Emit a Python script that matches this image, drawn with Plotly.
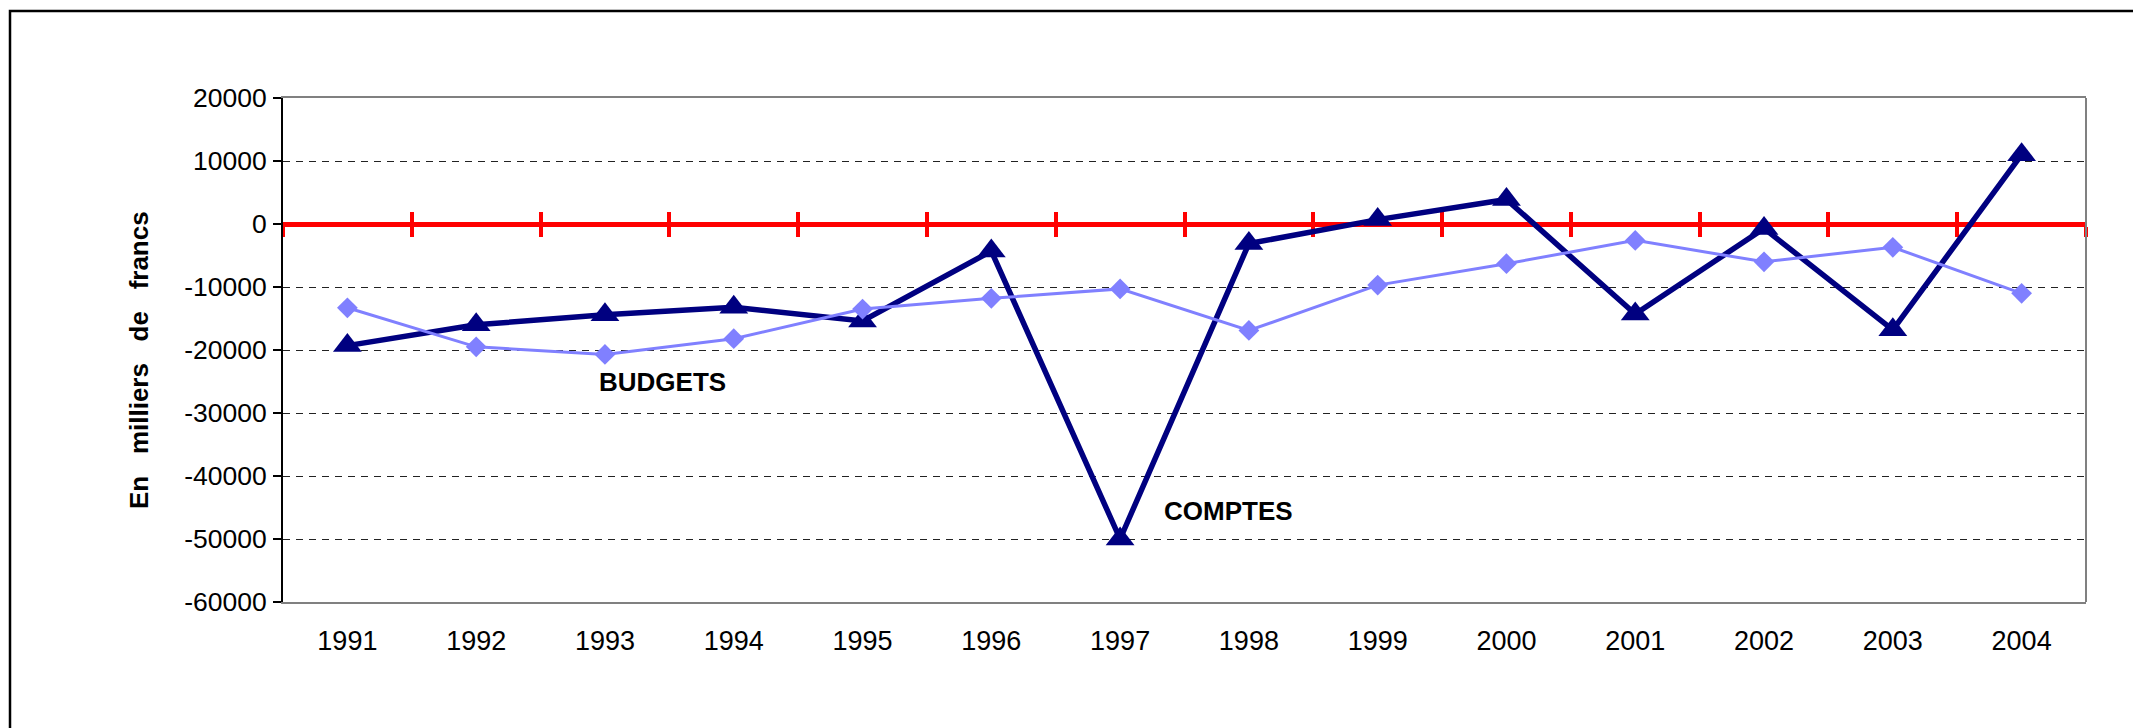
import plotly.graph_objects as go

# ---- data ----
years = ['1991', '1992', '1993', '1994', '1995', '1996', '1997',
         '1998', '1999', '2000', '2001', '2002', '2003', '2004']
comptes = [-19300, -16000, -14400, -13200, -15400, -4300, -50000,
           -3100, 700, 3900, -14300, -700, -16800, 11000]
budgets = [-13300, -19500, -20700, -18200, -13500, -11800, -10300,
           -16900, -9700, -6300, -2600, -6000, -3700, -11000]
y_ticks = [20000, 10000, 0, -10000, -20000, -30000, -40000, -50000, -60000]
y_tick_text = [str(v) for v in y_ticks]
y_range = [-60000, 20000]
SP = "\u00a0" * 3
y_title = "En" + SP + "milliers" + SP + "de" + SP + "francs"

# ---- layout geometry (page pixels; page body has an 8px margin) ----
W, H = 2141, 728
OFF = 8
PLOT_L, PLOT_R, PLOT_T, PLOT_B = 283, 2086, 98, 602   # page coords of plot area
L = PLOT_L - OFF
T = PLOT_T - OFF
R = W - (PLOT_R - OFF)
B = H - (PLOT_B - OFF)
PW, PH = PLOT_R - PLOT_L, PLOT_B - PLOT_T

def px_x(p):
    return (p - PLOT_L) / PW

def px_y(p):
    return (PLOT_B - p) / PH

FONT = "Liberation Sans, Arial, sans-serif"
NAVY = "#000080"
LIGHT = "#8080FF"
RED = "#FF0000"

fig = go.Figure()

# invisible carrier traces for the red zero axis (drawn via overlaid axes)
for ax in ("x2", "x3"):
    fig.add_trace(go.Scatter(x=years, y=[None] * len(years), xaxis=ax, yaxis="y",
                             mode="lines", showlegend=False, hoverinfo="skip"))

fig.add_trace(go.Scatter(
    x=years, y=comptes, name="COMPTES", mode="lines+markers",
    line=dict(color=NAVY, width=5.5),
    marker=dict(symbol="triangle-up", size=25, color=NAVY),
    showlegend=False))
fig.add_trace(go.Scatter(
    x=years, y=budgets, name="BUDGETS", mode="lines+markers",
    line=dict(color=LIGHT, width=3),
    marker=dict(symbol="diamond", size=16, color=LIGHT),
    showlegend=False))

zero_pos = (0 - y_range[0]) / (y_range[1] - y_range[0])
red_axis = dict(
    type="category", categoryorder="array", categoryarray=years,
    range=[-0.5, len(years) - 0.5], overlaying="x", anchor="free",
    position=zero_pos, showline=True, linecolor=RED, linewidth=5,
    tickson="boundaries", ticklen=10, tickwidth=4, tickcolor=RED,
    showticklabels=False, showgrid=False, zeroline=False,
    layer="below traces", fixedrange=True,
)

fig.update_layout(
    width=W, height=H,
    margin=dict(l=L, r=R, t=T, b=B, autoexpand=False),
    paper_bgcolor="white", plot_bgcolor="white",
    font=dict(family=FONT, size=26, color="black"),
    xaxis=dict(
        type="category", categoryorder="array", categoryarray=years,
        range=[-0.5, len(years) - 0.5],
        showline=True, linecolor="#808080", linewidth=2, mirror=True,
        ticks="outside", ticklen=14, tickcolor="rgba(0,0,0,0)",
        showgrid=False, zeroline=False,
        tickfont=dict(family=FONT, size=27, color="black"),
    ),
    xaxis2=dict(red_axis, ticks="outside"),
    xaxis3=dict(red_axis, ticks="inside"),
    yaxis=dict(
        range=y_range, tickmode="array", tickvals=y_ticks, ticktext=y_tick_text,
        showline=True, linecolor="black", linewidth=2,
        ticks="outside", ticklen=8, tickwidth=2, tickcolor="black",
        showgrid=True, gridcolor="#222222", gridwidth=1, griddash="7px,6px",
        zeroline=False, ticklabelstandoff=1,
        tickfont=dict(family=FONT, size=26.5, color="black"),
    ),
    shapes=[
        # right border of plot area
        dict(type="line", xref="paper", yref="paper", x0=1, x1=1, y0=0, y1=1,
             line=dict(color="#808080", width=2), layer="above"),
        # outer frame of the chart
        dict(type="rect", xref="paper", yref="paper",
             x0=px_x(10), x1=px_x(W + 30), y0=px_y(H + 30), y1=px_y(11),
             line=dict(color="black", width=2.5), layer="above"),
    ],
    annotations=[
        dict(text="<b>BUDGETS</b>", x=2.45, y=-25000, xref="x", yref="y",
             showarrow=False, font=dict(family=FONT, size=26, color="black"),
             xanchor="center", yanchor="middle"),
        dict(text="<b>COMPTES</b>", x=6.84, y=-45500, xref="x", yref="y",
             showarrow=False, font=dict(family=FONT, size=26, color="black"),
             xanchor="center", yanchor="middle"),
        dict(text="<b>" + y_title + "</b>", textangle=-90,
             x=px_x(139), y=px_y(360), xref="paper", yref="paper",
             showarrow=False, font=dict(family=FONT, size=26, color="black"),
             xanchor="center", yanchor="middle"),
    ],
)

fig.write_html("out.html")
